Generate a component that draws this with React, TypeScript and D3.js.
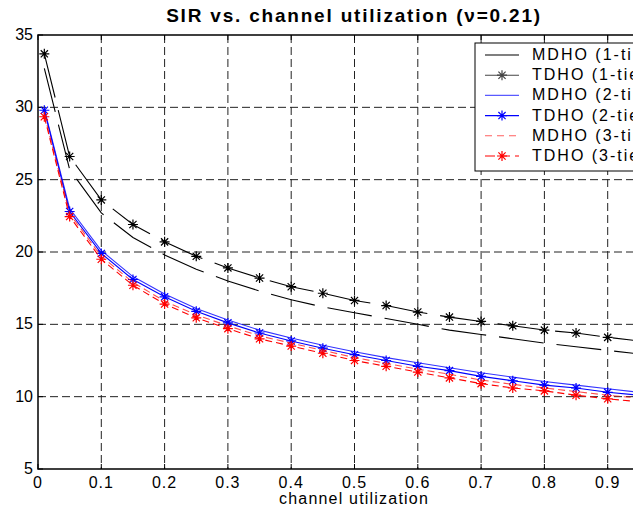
import * as d3 from 'd3';
import React, { useEffect, useRef } from 'react';

const utilization = [0.01, 0.05, 0.1, 0.15, 0.2, 0.25, 0.3, 0.35, 0.4, 0.45, 0.5, 0.55, 0.6, 0.65, 0.7, 0.75, 0.8, 0.85, 0.9, 0.95];

const mdho1 = [32.7, 25.7, 22.7, 21.0, 19.8, 18.8, 18.0, 17.3, 16.7, 16.2, 15.8, 15.4, 15.0, 14.6, 14.3, 14.0, 13.7, 13.45, 13.2, 12.95];
const tdho1 = [33.7, 26.6, 23.6, 21.9, 20.7, 19.7, 18.9, 18.2, 17.6, 17.15, 16.65, 16.3, 15.85, 15.5, 15.2, 14.9, 14.6, 14.4, 14.1, 13.85];
const mdho2 = [29.9, 23.0, 20.1, 18.3, 17.1, 16.1, 15.3, 14.6, 14.05, 13.55, 13.1, 12.7, 12.35, 12.0, 11.65, 11.35, 11.05, 10.8, 10.55, 10.3];
const tdho2 = [29.8, 22.8, 19.9, 18.1, 16.9, 15.9, 15.1, 14.4, 13.85, 13.35, 12.9, 12.5, 12.1, 11.8, 11.4, 11.1, 10.8, 10.6, 10.3, 10.1];
const mdho3 = [29.5, 22.65, 19.7, 17.9, 16.6, 15.65, 14.9, 14.2, 13.7, 13.2, 12.7, 12.3, 11.9, 11.55, 11.15, 10.85, 10.6, 10.35, 10.1, 9.9];
const tdho3 = [29.35, 22.45, 19.5, 17.7, 16.4, 15.45, 14.7, 14.0, 13.5, 13.0, 12.5, 12.1, 11.7, 11.3, 10.9, 10.6, 10.4, 10.1, 9.85, 9.65];

const seriesNames = ['MDHO (1-tier)', 'TDHO (1-tier)', 'MDHO (2-tier)', 'TDHO (2-tier)', 'MDHO (3-tier)', 'TDHO (3-tier)'];

const xTicks = [0, 0.1, 0.2, 0.3, 0.4, 0.5, 0.6, 0.7, 0.8, 0.9, 1];
const xTickLabels = ['0', '0.1', '0.2', '0.3', '0.4', '0.5', '0.6', '0.7', '0.8', '0.9'];
const yTicks = [5, 10, 15, 20, 25, 30, 35];

const font = 'Liberation Sans, Arial, Helvetica, sans-serif';

function App() {
  const ref = useRef<SVGSVGElement>(null);

  useEffect(() => {
    const svg = d3.select(ref.current);
    svg.selectAll('*').remove();

    var x = d3.scaleLinear().domain([0, 1]).range([38, 671]);
    var y = d3.scaleLinear().domain([5, 35]).range([469, 35]);

    // grid
    var grid = svg.append('g')
      .attr('stroke', '#222')
      .attr('stroke-width', 1)
      .attr('stroke-dasharray', '8,4');
    grid.selectAll('line.gx').data(xTicks.slice(1, -1)).enter().append('line')
      .attr('x1', d => x(d)).attr('x2', d => x(d))
      .attr('y1', y(35)).attr('y2', y(5));
    grid.selectAll('line.gy').data(yTicks.slice(1, -1)).enter().append('line')
      .attr('x1', x(0)).attr('x2', x(1))
      .attr('y1', d => y(d)).attr('y2', d => y(d));

    // axes box
    svg.append('path')
      .attr('d', `M${x(1)},${y(35)}H${x(0)}V${y(5)}H${x(1)}`)
      .attr('fill', 'none').attr('stroke', '#000').attr('stroke-width', 1.5);

    var ticks = svg.append('g').attr('stroke', '#000');
    xTicks.forEach(t => {
      ticks.append('line').attr('x1', x(t)).attr('x2', x(t)).attr('y1', y(5)).attr('y2', y(5) - 5);
      ticks.append('line').attr('x1', x(t)).attr('x2', x(t)).attr('y1', y(35)).attr('y2', y(35) + 5);
    });
    yTicks.forEach(t => {
      ticks.append('line').attr('x1', x(0)).attr('x2', x(0) + 5).attr('y1', y(t)).attr('y2', y(t));
    });

    svg.append('g').selectAll('text').data(xTickLabels).enter().append('text')
      .attr('x', (d, i) => x(xTicks[i])).attr('y', y(5) + 19)
      .attr('text-anchor', 'middle')
      .attr('font-family', font).attr('font-size', 16).attr('letter-spacing', 1)
      .text(d => d);

    svg.append('g').selectAll('text').data(yTicks).enter().append('text')
      .attr('x', x(0) - 5).attr('y', d => y(d) + 5)
      .attr('text-anchor', 'end')
      .attr('font-family', font).attr('font-size', 16)
      .text(d => String(d));

    svg.append('text')
      .attr('x', 354).attr('y', 504)
      .attr('text-anchor', 'middle')
      .attr('font-family', font).attr('font-size', 16).attr('letter-spacing', 1.2)
      .text('channel utilization');

    svg.append('text')
      .attr('x', 354).attr('y', 22)
      .attr('text-anchor', 'middle')
      .attr('font-family', font).attr('font-size', 19).attr('font-weight', 'bold')
      .attr('letter-spacing', 1.8)
      .text('SIR vs. channel utilization (ν=0.21)');

    var series = [
      { values: mdho1, color: '#000', opacity: 1, dash: '45,13', star: false, legendDash: null, legendColor: '#000' },
      { values: tdho1, color: '#000', opacity: 1, dash: '45,13', star: true, legendDash: null, legendColor: '#444' },
      { values: mdho2, color: '#0000ff', opacity: 0.8, dash: null, star: false, legendDash: null, legendColor: '#5a5aff' },
      { values: tdho2, color: '#0000ff', opacity: 1, dash: null, star: true, legendDash: null, legendColor: '#0000ff' },
      { values: mdho3, color: '#ff0000', opacity: 0.7, dash: '7,4', star: false, legendDash: '7,5', legendColor: '#ff6060' },
      { values: tdho3, color: '#ff0000', opacity: 1, dash: '7,4', star: true, legendDash: '10,5', legendColor: '#ff0000' },
    ];

    var line = d3.line<number>()
      .x((d, i) => x(utilization[i]))
      .y(d => y(d));

    var starPath = (cx: number, cy: number) => {
      var r = 5, s = 3.6;
      return `M${cx - r},${cy}H${cx + r}M${cx},${cy - r}V${cy + r}` +
        `M${cx - s},${cy - s}L${cx + s},${cy + s}M${cx - s},${cy + s}L${cx + s},${cy - s}`;
    };

    var plot = svg.append('g');
    series.forEach(s => {
      plot.append('path')
        .attr('d', line(s.values))
        .attr('fill', 'none')
        .attr('stroke', s.color)
        .attr('stroke-opacity', s.opacity)
        .attr('stroke-width', 1.1)
        .attr('stroke-dasharray', s.dash);
      if (s.star) {
        plot.append('path')
          .attr('d', s.values.map((v, i) => starPath(x(utilization[i]), y(v))).join(''))
          .attr('fill', 'none')
          .attr('stroke', s.color)
          .attr('stroke-width', 1.2);
      }
    });

    // legend
    var legend = svg.append('g');
    legend.append('rect')
      .attr('x', 475).attr('y', 43).attr('width', 300).attr('height', 128)
      .attr('fill', '#fff').attr('stroke', '#000').attr('stroke-width', 1);
    series.forEach((s, i) => {
      var ly = 55 + i * 20.2;
      legend.append('line')
        .attr('x1', 485).attr('x2', 519).attr('y1', ly).attr('y2', ly)
        .attr('stroke', s.legendColor).attr('stroke-width', 1.1)
        .attr('stroke-dasharray', s.legendDash);
      if (s.star) {
        legend.append('path')
          .attr('d', starPath(502, ly))
          .attr('fill', 'none').attr('stroke', s.legendColor).attr('stroke-width', 1.2);
      }
      legend.append('text')
        .attr('x', 532).attr('y', ly + 5)
        .attr('font-family', font).attr('font-size', 16).attr('letter-spacing', 2)
        .text(seriesNames[i]);
    });
  }, []);

  return (
    <svg ref={ref} width={633} height={515}
      style={{ position: 'absolute', left: 0, top: 0, background: '#fff' }} />
  );
}

export default App;
